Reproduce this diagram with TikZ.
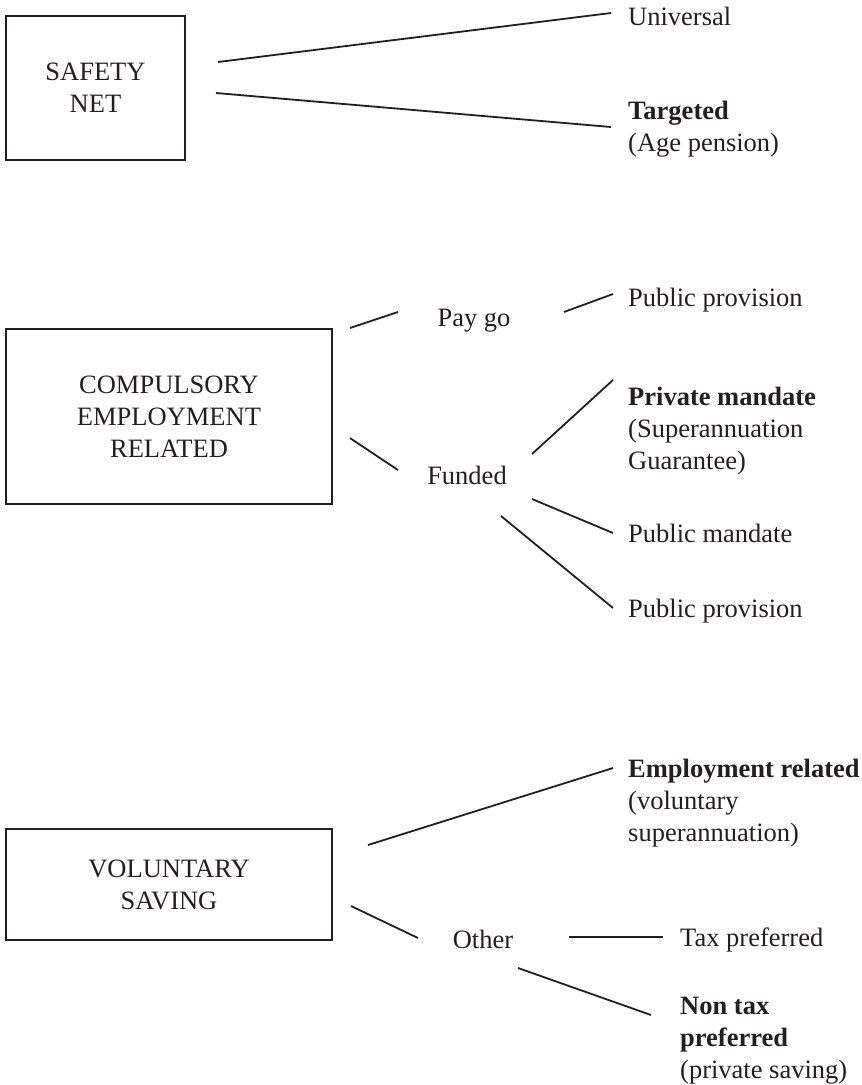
\documentclass[tikz,border=0pt]{standalone}
\usepackage{fontspec}
\setmainfont{Liberation Serif}
\usepackage{xcolor}
\definecolor{ink}{HTML}{231F20}

\tikzset{
    bigbox/.style={draw=ink, line width=2pt, align=center, inner sep=0pt},
    item/.style={anchor=base west, align=left, inner sep=0pt},
    mid/.style={anchor=base, inner sep=0pt},
    link/.style={draw=ink, line width=1.8pt},
}

\begin{document}
\begin{tikzpicture}[
    x=1pt, y=-1pt,
    every node/.style={font=\fontsize{26.5}{32}\selectfont, text=ink}
]
\useasboundingbox (0,0) rectangle (862,1085);

% Safety net (multi-line items sit on the baseline of their last line)
\node[bigbox, minimum width=179pt, minimum height=144pt] (safety) at (95.5,88) {SAFETY\\NET};
\node[item] (univ) at (628,25) {Universal};
\node[item] (targ) at (628,151) {\textbf{Targeted}\\(Age pension)};

\draw[link] ([shift={(32,-26)}]safety.east) -- ([shift={(-17,-12)}]univ.base west);
\draw[link] ([shift={(30,5)}]safety.east) -- ([shift={(-17,-24)}]targ.base west);

% Compulsory employment related
\node[bigbox, minimum width=326pt, minimum height=175pt] (comp) at (169,416.5) {COMPULSORY\\EMPLOYMENT\\RELATED};
\node[mid] (paygo) at (474,326) {Pay go};
\node[mid] (funded) at (467,484) {Funded};
\node[item] (pubprova) at (628,306) {Public provision};
\node[item] (privm) at (628,469) {\textbf{Private mandate}\\(Superannuation\\Guarantee)};
\node[item] (pubm) at (628,542) {Public mandate};
\node[item] (pubprovb) at (628,617) {Public provision};

\draw[link] ([shift={(17,-88.5)}]comp.east) -- ([shift={(-76,-14)}]paygo.base);
\draw[link] ([shift={(90,-14)}]paygo.base) -- ([shift={(-15,-12)}]pubprova.base west);
\draw[link] ([shift={(17,21.5)}]comp.east) -- ([shift={(-69,-14)}]funded.base);
\draw[link] ([shift={(65,-30)}]funded.base) -- ([shift={(-15,-89)}]privm.base west);
\draw[link] ([shift={(65,15)}]funded.base) -- ([shift={(-15,-9)}]pubm.base west);
\draw[link] ([shift={(34,32)}]funded.base) -- ([shift={(-15,-9)}]pubprovb.base west);

% Voluntary saving
\node[bigbox, minimum width=326pt, minimum height=111pt] (vol) at (169,884.5) {VOLUNTARY\\SAVING};
\node[mid] (other) at (483,948) {Other};
\node[item] (emprel) at (628,841) {\textbf{Employment related}\\(voluntary\\superannuation)};
\node[item] (taxp) at (680,946) {Tax preferred};
\node[item] (nontax) at (680,1078) {\textbf{Non tax}\\\textbf{preferred}\\(private saving)};

\draw[link] ([shift={(35,-39.5)}]vol.east) -- ([shift={(-15,-73)}]emprel.base west);
\draw[link] ([shift={(18,21.5)}]vol.east) -- ([shift={(-65,-10)}]other.base);
\draw[link] ([shift={(86,-11)}]other.base) -- ([shift={(-17,-9)}]taxp.base west);
\draw[link] ([shift={(35,20)}]other.base) -- ([shift={(-29,-63)}]nontax.base west);

\end{tikzpicture}
\end{document}
